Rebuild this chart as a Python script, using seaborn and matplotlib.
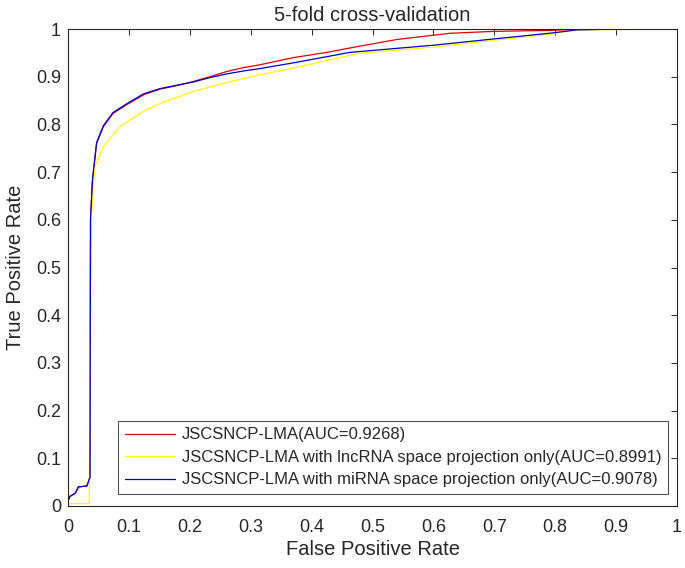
import numpy as np
import pandas as pd
import matplotlib
matplotlib.use("Agg")
import matplotlib.pyplot as plt
import seaborn as sns

labels = [
    "JSCSNCP-LMA(AUC=0.9268)",
    "JSCSNCP-LMA with lncRNA space projection only(AUC=0.8991)",
    "JSCSNCP-LMA with miRNA space projection only(AUC=0.9078)",
]
colors = ["#e00000", "#ffff00", "#0000c8"]

red_fpr = [0, 0.003, 0.012, 0.017, 0.031, 0.036, 0.037, 0.040, 0.042, 0.047, 0.058, 0.074, 0.096,
           0.124, 0.151, 0.178, 0.206, 0.233, 0.261, 0.288, 0.315, 0.370, 0.425, 0.479, 0.540,
           0.600, 0.627, 0.698, 0.791, 0.846, 1.0]
red_tpr = [0.01, 0.02, 0.027, 0.04, 0.042, 0.06, 0.60, 0.68, 0.705, 0.760, 0.795, 0.823, 0.841,
           0.862, 0.874, 0.881, 0.890, 0.900, 0.911, 0.919, 0.925, 0.940, 0.951, 0.964, 0.978,
           0.987, 0.991, 0.995, 0.997, 1.0, 1.0]

yel_fpr = [0, 0.035, 0.035, 0.036, 0.038, 0.044, 0.058, 0.085, 0.124, 0.151, 0.206, 0.261,
           0.315, 0.370, 0.425, 0.479, 0.600, 0.698, 0.790, 0.835, 1.0]
yel_tpr = [0.005, 0.005, 0.04, 0.30, 0.60, 0.711, 0.753, 0.795, 0.827, 0.844, 0.869, 0.888,
           0.904, 0.918, 0.934, 0.949, 0.962, 0.976, 0.989, 0.998, 1.0]

blu_fpr = [0, 0.003, 0.012, 0.017, 0.031, 0.036, 0.037, 0.040, 0.042, 0.047, 0.058, 0.074, 0.096,
           0.124, 0.151, 0.178, 0.206, 0.233, 0.261, 0.288, 0.315, 0.370, 0.425, 0.463, 0.600,
           0.698, 0.797, 0.835, 0.901, 1.0]
blu_tpr = [0.01, 0.02, 0.027, 0.04, 0.042, 0.06, 0.60, 0.68, 0.705, 0.762, 0.797, 0.825, 0.843,
           0.864, 0.875, 0.882, 0.889, 0.898, 0.906, 0.912, 0.917, 0.929, 0.942, 0.951, 0.966,
           0.979, 0.992, 0.998, 1.0, 1.0]

ticks = [0, 0.1, 0.2, 0.3, 0.4, 0.5, 0.6, 0.7, 0.8, 0.9, 1]
tick_labels = ["0", "0.1", "0.2", "0.3", "0.4", "0.5", "0.6", "0.7", "0.8", "0.9", "1"]

frames = []
for lab, fx, fy in zip(labels, [red_fpr, yel_fpr, blu_fpr], [red_tpr, yel_tpr, blu_tpr]):
    frames.append(pd.DataFrame({"fpr": fx, "tpr": fy, "model": lab}))
df = pd.concat(frames, ignore_index=True)

sns.set_style("white")
plt.rcParams["font.family"] = ["Liberation Sans", "DejaVu Sans"]

fig = plt.figure(figsize=(6.85, 5.68), dpi=100)
ax = fig.add_axes([68 / 685, 62 / 568, 609 / 685, 477 / 568])

sns.lineplot(data=df, x="fpr", y="tpr", hue="model", hue_order=labels,
             palette=dict(zip(labels, colors)), estimator=None, sort=False,
             units="model", linewidth=0.9, ax=ax)

ax.set_xlim(0, 1)
ax.set_ylim(0, 1)
ax.set_xticks(ticks)
ax.set_xticklabels(tick_labels)
ax.set_yticks(ticks)
ax.set_yticklabels(tick_labels)
ax.tick_params(direction="in", length=4, width=0.7, top=True, right=True,
               labelsize=13, colors="#262626")
ax.tick_params(axis="x", pad=9)
ax.tick_params(axis="y", pad=5)
for s in ax.spines.values():
    s.set_color("#262626")
    s.set_linewidth(0.8)

ax.set_xlabel("False Positive Rate", fontsize=14.5, color="#262626", labelpad=3)
ax.set_ylabel("True Positive Rate", fontsize=14.5, color="#262626", labelpad=8)
ax.set_title("5-fold cross-validation", fontsize=14.5, color="#262626", pad=6)

leg = ax.legend(loc="lower right", bbox_to_anchor=(600 / 609, 12 / 477), borderaxespad=0,
                fontsize=12, frameon=True, fancybox=False,
                handlelength=3.0, handletextpad=0.4, borderpad=0.4, labelspacing=0.45)
leg.get_frame().set_edgecolor("#262626")
leg.get_frame().set_linewidth(0.8)
for line in leg.get_lines():
    line.set_linewidth(0.9)
leg.set_title(None)

fig.savefig("out.png", dpi=100)
